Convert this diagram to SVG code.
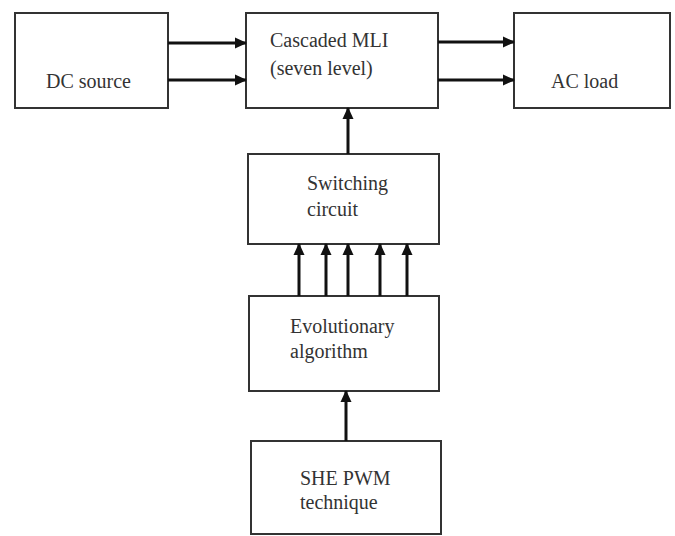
<svg xmlns="http://www.w3.org/2000/svg" width="675" height="536" viewBox="0 0 675 536">
<defs>
<marker id="ah" markerWidth="12" markerHeight="12" refX="11" refY="6" orient="auto" markerUnits="userSpaceOnUse" viewBox="0 0 12 12">
<path d="M0,0.5 L12,6 L0,11.5 z" fill="#111"/>
</marker>
<style>
.box{fill:#fff;stroke:#333;stroke-width:2}
.t{font-family:"Liberation Serif","Times New Roman",serif;font-size:20px;fill:#333}
.c{stroke:#111;stroke-width:3;fill:none;marker-end:url(#ah)}
</style>
</defs>
<rect width="675" height="536" fill="#fff"/>
<g id="dc"><rect class="box" x="15" y="13" width="153" height="95"/><text class="t" x="46" y="88">DC source</text></g>
<g id="mli"><rect class="box" x="246" y="13" width="192" height="95"/><text class="t" x="270" y="47">Cascaded MLI</text><text class="t" x="270" y="75">(seven level)</text></g>
<g id="ac"><rect class="box" x="514" y="13" width="156" height="95"/><text class="t" x="551" y="88">AC load</text></g>
<g id="sw"><rect class="box" x="248" y="154" width="191" height="90"/><text class="t" x="307" y="190">Switching</text><text class="t" x="307" y="216">circuit</text></g>
<g id="evo"><rect class="box" x="249" y="296" width="190" height="95"/><text class="t" x="290" y="333">Evolutionary</text><text class="t" x="290" y="358">algorithm</text></g>
<g id="she"><rect class="box" x="251" y="441" width="190" height="93"/><text class="t" x="300" y="485">SHE PWM</text><text class="t" x="300" y="509">technique</text></g>
<g id="connectors">
<line class="c" x1="168" y1="43" x2="246" y2="43"/>
<line class="c" x1="168" y1="80" x2="246" y2="80"/>
<line class="c" x1="438" y1="42" x2="514" y2="42"/>
<line class="c" x1="438" y1="80" x2="514" y2="80"/>
<line class="c" x1="348" y1="154" x2="348" y2="108"/>
<line class="c" x1="299" y1="296" x2="299" y2="244"/>
<line class="c" x1="326" y1="296" x2="326" y2="244"/>
<line class="c" x1="348" y1="296" x2="348" y2="244"/>
<line class="c" x1="380" y1="296" x2="380" y2="244"/>
<line class="c" x1="407" y1="296" x2="407" y2="244"/>
<line class="c" x1="346" y1="441" x2="346" y2="391"/>
</g>
</svg>
